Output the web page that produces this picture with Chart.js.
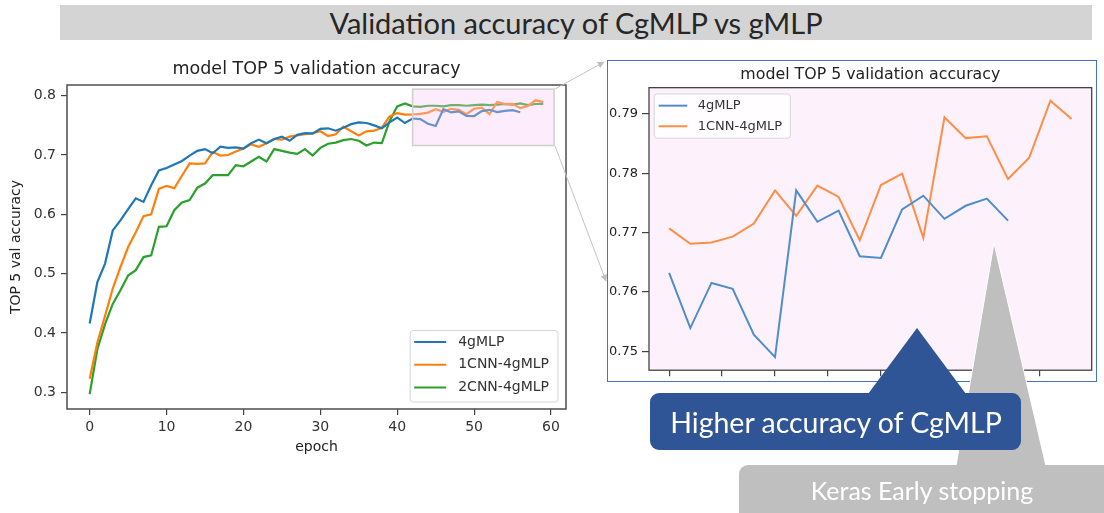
<!DOCTYPE html>
<html>
<head>
<meta charset="utf-8">
<script src="https://cdn.jsdelivr.net/npm/chart.js@4.4.1/dist/chart.umd.min.js"></script>
<style>
  body { margin: 0; width: 1104px; height: 513px; overflow: hidden; background: #fff; position: relative; font-family: Lato, "Open Sans", sans-serif; }
  #header { position: absolute; left: 60px; top: 5px; width: 1032px; height: 35px; background: #d4d4d4; color: #262626; font-size: 29px; line-height: 35px; text-align: center; }
  #mainChart { position: absolute; left: 0; top: 50px; }
  #zoomPanel { position: absolute; left: 607px; top: 60px; width: 490px; height: 322px; overflow: hidden; background: #fff; }
  #zoomPanel canvas { position: absolute; left: 0; top: 0; }
  #zoomBorder { position: absolute; left: 607px; top: 60px; width: 490px; height: 322px; box-sizing: border-box; border: 1.5px solid #4472c4; }
  #overlay { position: absolute; left: 0; top: 0; }
</style>
</head>
<body>
<div id="header">Validation accuracy of CgMLP vs gMLP</div>
<canvas id="mainChart" width="580" height="420"></canvas>
<div id="zoomPanel"><canvas id="zoomChart" width="490" height="322"></canvas></div>
<div id="zoomBorder"></div>
<svg id="overlay" width="1104" height="513">
  <defs>
    <marker id="arrow" viewBox="0 0 10 10" refX="9" refY="5" markerWidth="7" markerHeight="7" orient="auto">
      <path d="M0,0 L10,5 L0,10 z" fill="#bfbfbf"/>
    </marker>
  </defs>
  <line x1="555" y1="89" x2="604" y2="62" stroke="#c4c4c4" stroke-width="1" marker-end="url(#arrow)"/>
  <line x1="555" y1="146" x2="606" y2="281" stroke="#c4c4c4" stroke-width="1" marker-end="url(#arrow)"/>
  <polygon points="994,243 956,466 1046,466" fill="#bfbfbf" stroke="#fff" stroke-width="1"/>
  <rect x="739" y="465" width="400" height="60" rx="9" fill="#bfbfbf"/>
  <text x="922" y="500" fill="#fff" font-size="25" text-anchor="middle">Keras Early stopping</text>
  <polygon points="917,328 868,394 966,394" fill="#2f5597"/>
  <rect x="650" y="393" width="371" height="57" rx="9" fill="#2f5597"/>
  <text x="836" y="433" fill="#fff" font-size="28.5" text-anchor="middle">Higher accuracy of CgMLP</text>
</svg>
<script>
// epochs and TOP-5 validation accuracy
const epochs = [0, 1, 2, 3, 4, 5, 6, 7, 8, 9, 10, 11, 12, 13, 14, 15, 16, 17, 18, 19,
  20, 21, 22, 23, 24, 25, 26, 27, 28, 29, 30, 31, 32, 33, 34, 35, 36, 37, 38, 39,
  40, 41, 42, 43, 44, 45, 46, 47, 48, 49, 50, 51, 52, 53, 54, 55, 56, 57, 58, 59];

const acc4gMLP = [0.416, 0.486, 0.517, 0.573, 0.590, 0.609, 0.627, 0.621, 0.649, 0.674,
  0.678, 0.684, 0.690, 0.699, 0.707, 0.710, 0.703, 0.714, 0.712, 0.713,
  0.711, 0.720, 0.726, 0.720, 0.727, 0.731, 0.724, 0.734, 0.737, 0.736,
  0.744, 0.745, 0.741, 0.746, 0.752, 0.755, 0.754, 0.750, 0.745, 0.755,
  0.7632, 0.7539, 0.7615, 0.7605, 0.7528, 0.7490, 0.7771, 0.7718, 0.7737, 0.7660,
  0.7657, 0.7739, 0.7762, 0.7723, 0.7745, 0.7757, 0.7720];

const acc1CNN = [0.323, 0.384, 0.429, 0.475, 0.511, 0.545, 0.570, 0.597, 0.600, 0.643,
  0.648, 0.644, 0.665, 0.686, 0.685, 0.686, 0.705, 0.699, 0.700, 0.706,
  0.711, 0.718, 0.714, 0.720, 0.727, 0.726, 0.731, 0.733, 0.735, 0.737,
  0.740, 0.732, 0.735, 0.748, 0.740, 0.733, 0.740, 0.741, 0.746, 0.765,
  0.7707, 0.7681, 0.7683, 0.7693, 0.7715, 0.7771, 0.7728, 0.7779, 0.7760, 0.7687,
  0.7780, 0.7799, 0.7691, 0.7894, 0.7859, 0.7862, 0.7790, 0.7826, 0.7922, 0.7891];

const acc2CNN = [0.297, 0.373, 0.415, 0.449, 0.472, 0.497, 0.506, 0.528, 0.531, 0.579,
  0.580, 0.607, 0.620, 0.624, 0.645, 0.652, 0.666, 0.666, 0.666, 0.683,
  0.681, 0.689, 0.697, 0.689, 0.710, 0.707, 0.704, 0.702, 0.710, 0.699,
  0.712, 0.719, 0.721, 0.725, 0.727, 0.724, 0.716, 0.721, 0.720, 0.757,
  0.782, 0.787, 0.782, 0.781, 0.783, 0.783, 0.782, 0.784, 0.784, 0.783,
  0.784, 0.785, 0.784, 0.785, 0.786, 0.785, 0.787, 0.784, 0.786, 0.786];

const seriesNames = ['4gMLP', '1CNN-4gMLP', '2CNN-4gMLP'];

const mainXTicks = [0, 10, 20, 30, 40, 50, 60];
const mainYTicks = [0.3, 0.4, 0.5, 0.6, 0.7, 0.8];
const zoomXTicks = [40, 42.5, 45, 47.5, 50, 52.5, 55, 57.5];
const zoomYTicks = [0.75, 0.76, 0.77, 0.78, 0.79];
const zoomStart = 40; // first epoch in the zoomed panel

Chart.defaults.font.family = '"DejaVu Sans", sans-serif';
Chart.defaults.color = '#333';

function points(values, from = 0) {
  return values.slice(from).map((v, i) => ({ x: epochs[from + i], y: v }));
}

function lineSet(label, data, color, width) {
  return { label, data, borderColor: color, backgroundColor: color, borderWidth: width, pointRadius: 0, tension: 0, fill: false };
}

// spines, plot background and the highlighted region
const framePlugin = {
  id: 'frame',
  beforeDraw(chart, args, opts) {
    if (!opts.background) return;
    const a = chart.chartArea, ctx = chart.ctx;
    ctx.save();
    ctx.fillStyle = opts.background;
    ctx.fillRect(a.left, a.top, a.right - a.left, a.bottom - a.top);
    ctx.restore();
  },
  afterDatasetsDraw(chart, args, opts) {
    const hb = opts.highlight;
    if (!hb) return;
    const ctx = chart.ctx, xs = chart.scales.x, ys = chart.scales.y;
    const l = xs.getPixelForValue(hb.x0), r = xs.getPixelForValue(hb.x1);
    const t = ys.getPixelForValue(hb.y1), b = ys.getPixelForValue(hb.y0);
    ctx.save();
    ctx.fillStyle = hb.fill;
    ctx.fillRect(l, t, r - l, b - t);
    ctx.strokeStyle = hb.stroke;
    ctx.lineWidth = 1.5;
    ctx.strokeRect(l, t, r - l, b - t);
    ctx.restore();
  },
  afterDraw(chart, args, opts) {
    const a = chart.chartArea, ctx = chart.ctx;
    ctx.save();
    ctx.strokeStyle = opts.color || '#444';
    ctx.lineWidth = opts.width || 1.3;
    ctx.strokeRect(a.left, a.top, a.right - a.left, a.bottom - a.top);
    ctx.restore();
  }
};

// matplotlib-style legend box inside the axes
const boxLegendPlugin = {
  id: 'boxLegend',
  afterDraw(chart, args, o) {
    const ctx = chart.ctx, a = chart.chartArea;
    const sets = chart.data.datasets;
    ctx.save();
    ctx.font = o.fontSize + 'px "DejaVu Sans"';
    const tw = Math.max(...sets.map(d => ctx.measureText(d.label).width));
    const w = o.padLeft + o.lineLen + o.gap + tw + o.padRight;
    const h = o.padTop + o.rowH * sets.length + o.padBottom;
    const x = o.corner === 'lowerRight' ? a.right - o.marginX - w : a.left + o.marginX;
    const y = o.corner === 'lowerRight' ? a.bottom - o.marginY - h : a.top + o.marginY;
    ctx.beginPath();
    ctx.roundRect(x, y, w, h, 3);
    ctx.fillStyle = 'rgba(255,255,255,0.85)';
    ctx.fill();
    ctx.strokeStyle = '#d6d6d6';
    ctx.lineWidth = 1;
    ctx.stroke();
    sets.forEach((d, i) => {
      const cy = y + o.padTop + o.rowH * (i + 0.5);
      ctx.beginPath();
      ctx.moveTo(x + o.padLeft, cy);
      ctx.lineTo(x + o.padLeft + o.lineLen, cy);
      ctx.strokeStyle = d.borderColor;
      ctx.lineWidth = 2;
      ctx.stroke();
      ctx.fillStyle = '#333';
      ctx.textBaseline = 'middle';
      ctx.fillText(d.label, x + o.padLeft + o.lineLen + o.gap, cy);
    });
    ctx.restore();
  }
};

function tickSetter(list) {
  return scale => { scale.ticks = list.map(v => ({ value: v })); };
}

const tickGrid = len => ({ display: true, drawOnChartArea: false, drawTicks: true, tickLength: len, color: '#444', lineWidth: 1.2 });

new Chart(document.getElementById('mainChart'), {
  type: 'line',
  data: {
    datasets: [
      lineSet(seriesNames[0], points(acc4gMLP), '#1f77b4', 2.2),
      lineSet(seriesNames[1], points(acc1CNN), '#ff7f0e', 2.2),
      lineSet(seriesNames[2], points(acc2CNN), '#2ca02c', 2.2)
    ]
  },
  options: {
    responsive: false,
    animation: false,
    layout: { padding: { left: 0, right: 14, top: 0, bottom: 0 } },
    plugins: {
      legend: { display: false },
      tooltip: { enabled: false },
      title: {
        display: true, text: 'model TOP 5 validation accuracy', fullSize: false,
        color: '#222', font: { size: 17.5, weight: 'normal' }, padding: { top: 9, bottom: 5 }
      },
      frame: {
        color: '#4d4d4d', width: 1.5,
        highlight: { x0: 42, x1: 60.4, y0: 0.716, y1: 0.811, fill: 'rgba(248,200,243,0.35)', stroke: '#cfcfcf' }
      },
      boxLegend: {
        corner: 'lowerRight', fontSize: 14, rowH: 22.8, lineLen: 32, gap: 12,
        padLeft: 4, padRight: 9, padTop: 0, padBottom: 3, marginX: 8, marginY: 7
      }
    },
    scales: {
      x: {
        type: 'linear', min: -2.95, max: 61.95,
        afterBuildTicks: tickSetter(mainXTicks),
        afterFit: s => { s.height = 61; },
        ticks: { color: '#333', font: { size: 14 }, padding: 4, maxRotation: 0, autoSkip: false },
        grid: tickGrid(6),
        border: { display: false },
        title: { display: true, text: 'epoch', color: '#222', font: { size: 14 }, padding: { top: 0, bottom: 14 } }
      },
      y: {
        type: 'linear', min: 0.272, max: 0.818,
        afterBuildTicks: tickSetter(mainYTicks),
        afterFit: s => { s.width = 67; },
        ticks: { color: '#333', font: { size: 14 }, padding: 5 },
        grid: tickGrid(6),
        border: { display: false },
        title: { display: true, text: 'TOP 5 val accuracy', color: '#222', font: { size: 14 }, padding: { top: 7.6, bottom: 0 } }
      }
    }
  },
  plugins: [framePlugin, boxLegendPlugin]
});

new Chart(document.getElementById('zoomChart'), {
  type: 'line',
  data: {
    datasets: [
      lineSet(seriesNames[0], points(acc4gMLP, zoomStart), '#4f8dcb', 2),
      lineSet(seriesNames[1], points(acc1CNN, zoomStart), '#fd8e45', 2)
    ]
  },
  options: {
    responsive: false,
    animation: false,
    layout: { padding: { left: 0, right: 5.3, top: 0, bottom: 0 } },
    plugins: {
      legend: { display: false },
      tooltip: { enabled: false },
      title: {
        display: true, text: 'model TOP 5 validation accuracy', fullSize: false,
        color: '#222', font: { size: 15.8, weight: 'normal' }, padding: { top: 5.2, bottom: 3.5 }
      },
      frame: { color: '#444', width: 1.3, background: '#fdf1fc' },
      boxLegend: {
        corner: 'upperLeft', fontSize: 13, rowH: 20.6, lineLen: 28.6, gap: 10.4,
        padLeft: 4.4, padRight: 8.3, padTop: 1.4, padBottom: 1.7, marginX: 5.3, marginY: 6.3
      }
    },
    scales: {
      x: {
        type: 'linear', min: 39.05, max: 59.95,
        afterBuildTicks: tickSetter(zoomXTicks),
        afterFit: s => { s.height = 6; },
        ticks: { display: false },
        grid: tickGrid(6),
        border: { display: false }
      },
      y: {
        type: 'linear', min: 0.7468, max: 0.7944,
        afterBuildTicks: tickSetter(zoomYTicks),
        afterFit: s => { s.width = 42; },
        ticks: { color: '#222', font: { size: 13 }, padding: 4 },
        grid: tickGrid(7),
        border: { display: false }
      }
    }
  },
  plugins: [framePlugin, boxLegendPlugin]
});
</script>
</body>
</html>
